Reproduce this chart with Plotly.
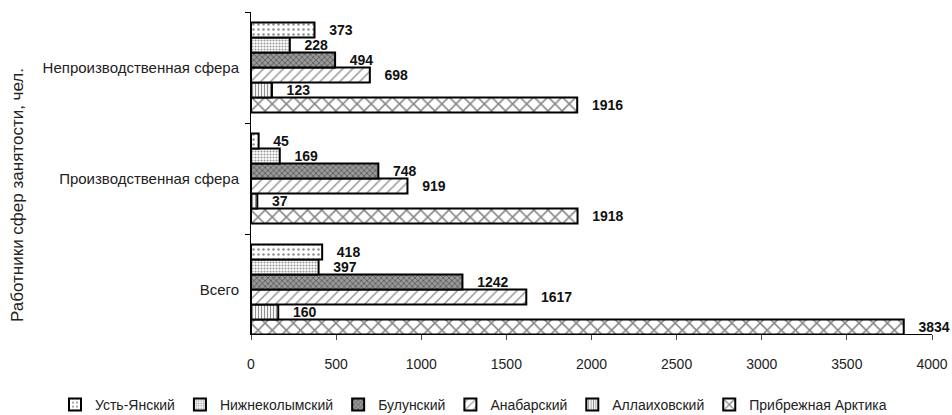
import plotly.graph_objects as go

categories = ["Всего", "Производственная сфера", "Непроизводственная сфера"]
series_names = ["Усть-Янский", "Нижнеколымский", "Булунский", "Анабарский", "Аллаиховский", "Прибрежная Арктика"]
ust_yansky = [418, 45, 373]
nizhnekolymsky = [397, 169, 228]
bulunsky = [1242, 748, 494]
anabarsky = [1617, 919, 698]
allaikhovsky = [160, 37, 123]
arctic = [3834, 1918, 1916]
x_ticks = [0, 500, 1000, 1500, 2000, 2500, 3000, 3500, 4000]

values = [ust_yansky, nizhnekolymsky, bulunsky, anabarsky, allaikhovsky, arctic]
patterns = [
    dict(shape=".", size=5, solidity=0.2, fgcolor="#222", bgcolor="white"),
    dict(shape=".", size=3, solidity=0.4, fgcolor="#333", bgcolor="white"),
    dict(shape="x", size=4, solidity=0.4, fgcolor="#222", bgcolor="#999"),
    dict(shape="/", size=7, solidity=0.2, fgcolor="#222", bgcolor="white"),
    dict(shape="|", size=3, solidity=0.4, fgcolor="#222", bgcolor="white"),
    dict(shape="x", size=10, solidity=0.3, fgcolor="#111", bgcolor="white"),
]

L, R, T, B = 251, 20, 12, 81
PW = 952 - L - R
PH = 415 - T - B

fig = go.Figure()
# plotly draws the first trace at the bottom of a group; add in reverse so Усть-Янский is on top
for i in reversed(range(len(series_names))):
    fig.add_trace(go.Bar(
        y=categories, x=values[i], name=series_names[i], orientation="h",
        marker=dict(color="white", line=dict(color="black", width=2), pattern=patterns[i]),
        text=[str(v) for v in values[i]], textposition="outside",
        constraintext="none",
        textfont=dict(family="Liberation Sans, Arial", size=14, color="#111"),
        texttemplate="\u00a0\u00a0\u00a0<b>%{text}</b>", cliponaxis=False,
    ))

fig.update_layout(
    width=952, height=415,
    margin=dict(l=L, r=R, t=T, b=B, autoexpand=False),
    paper_bgcolor="white", plot_bgcolor="white",
    barmode="group", bargap=0.19, bargroupgap=0.0,
    font=dict(family="Liberation Sans, Arial", size=14, color="#222"),
    showlegend=True,
    legend=dict(orientation="h", x=(55 - L) / PW, xanchor="left",
                y=(T + PH - 405) / PH, yanchor="middle",
                traceorder="reversed", font=dict(size=14), itemwidth=30,
                bgcolor="rgba(0,0,0,0)"),
    xaxis=dict(range=[0, 4000], tickvals=x_ticks, ticks="outside", ticklen=5,
               ticklabelstandoff=12,
               showgrid=False, zeroline=False, showline=True, linecolor="black",
               linewidth=1, tickfont=dict(size=14, color="#222")),
    yaxis=dict(range=[-0.4, 2.5], showline=True, linecolor="black", linewidth=1,
               showgrid=False,
               ticks="outside", ticklen=5, tickson="boundaries", tickcolor="black",
               ticklabelstandoff=8, tickfont=dict(size=15, color="#222"),
               automargin=False),
    annotations=[dict(text="Работники сфер занятости, чел.", textangle=-90,
                      x=(17 - L) / PW, y=(T + PH - 195) / PH, xref="paper", yref="paper",
                      xanchor="center", yanchor="middle", showarrow=False,
                      font=dict(size=17, color="#222"))],
)

fig.write_html("out.html", config={"displayModeBar": False},
               post_script="document.body.style.margin='0';")
